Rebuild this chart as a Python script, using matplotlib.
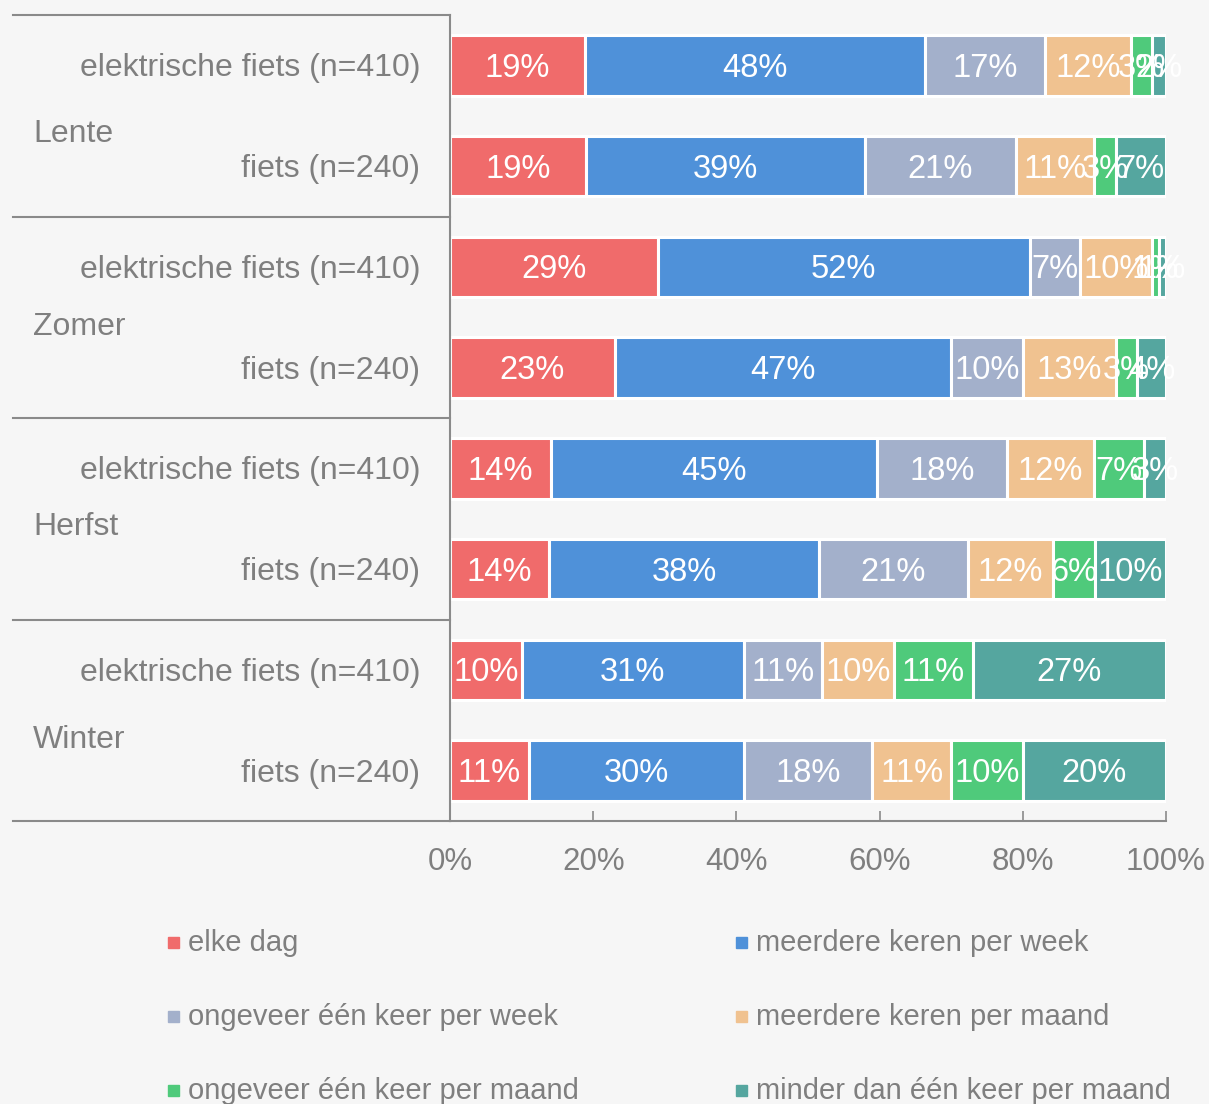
import matplotlib.pyplot as plt
from matplotlib.patches import Rectangle
from matplotlib.transforms import blended_transform_factory

plt.rcParams['font.family'] = ['Liberation Sans', 'DejaVu Sans']

# data
seasons = ['Lente', 'Zomer', 'Herfst', 'Winter']
bikes = ['elektrische fiets (n=410)', 'fiets (n=240)']
categories = ['elke dag', 'meerdere keren per week', 'ongeveer één keer per week',
              'meerdere keren per maand', 'ongeveer één keer per maand',
              'minder dan één keer per maand']
colors = ['#f06b6b', '#4f91d9', '#a3b0cb', '#f0c290', '#4fca7b', '#55a69f']

# one row per season/bike, percent per category
values = [
    [19, 48, 17, 12, 3, 2],
    [19, 39, 21, 11, 3, 7],
    [29, 52, 7, 10, 1, 1],
    [23, 47, 10, 13, 3, 4],
    [14, 45, 18, 12, 7, 3],
    [14, 38, 21, 12, 6, 10],
    [10, 31, 11, 10, 11, 27],
    [11, 30, 18, 11, 10, 20],
]

BG = '#f6f6f6'
GREY = '#7f7f7f'
LINE = '#8a8a8a'

fig = plt.figure(figsize=(12.09, 11.04), dpi=100, facecolor=BG)
ax = fig.add_axes([450 / 1209, 1 - 821 / 1104, 716 / 1209, 806 / 1104])
ax.set_facecolor(BG)

for i, row in enumerate(values):
    total = sum(row)
    left = 0
    for j, v in enumerate(row):
        w = v / total * 100
        ax.barh(i, w, left=left, height=0.6, color=colors[j],
                edgecolor='white', linewidth=2.2)
        ax.text(left + w / 2, i + 0.03, f'{v}%', ha='center', va='center',
                color='white', fontsize=23.5)
        left += w

ax.set_xlim(0, 100)
ax.set_ylim(7.5, -0.5)
ax.set_yticks([])
ax.set_xticks([0, 20, 40, 60, 80, 100])
ax.set_xticklabels(['0%', '20%', '40%', '60%', '80%', '100%'])
ax.tick_params(axis='x', direction='in', length=7, width=1.2, color=LINE,
               labelcolor=GREY, labelsize=22.5, pad=19)
for s in ['top', 'right']:
    ax.spines[s].set_visible(False)
for s in ['left', 'bottom']:
    ax.spines[s].set_color(LINE)
    ax.spines[s].set_linewidth(1.5)

# row labels and group boxes on the left
trans = blended_transform_factory(ax.transAxes, ax.transData)
x_edge = (13 - 450) / 716
for y in [-0.5, 1.5, 3.5, 5.5, 7.5]:
    ax.plot([x_edge, 0], [y, y], color=LINE, lw=1.5, transform=trans, clip_on=False)

season_offset = [0.68, 0.60, 0.58, 0.70]
for g, season in enumerate(seasons):
    ax.text((33 - 450) / 716, 2 * g + season_offset[g], season, transform=trans,
            ha='left', va='center', color=GREY, fontsize=23)
    for b, bike in enumerate(bikes):
        ax.text(-30 / 716, 2 * g + b + 0.03, bike, transform=trans,
                ha='right', va='center', color=GREY, fontsize=23)

# legend, two columns
leg_x = [173 / 1209, 741 / 1209]
leg_y = [1 - 942 / 1104, 1 - 1016 / 1104, 1 - 1090 / 1104]
for k, cat in enumerate(categories):
    x = leg_x[k % 2]
    y = leg_y[k // 2]
    fig.add_artist(Rectangle((x - 5 / 1209, y - 6 / 1104), 11 / 1209, 11 / 1104,
                             transform=fig.transFigure, color=colors[k]))
    fig.text(x + 15 / 1209, y - 1 / 1104, cat, ha='left', va='center',
             color=GREY, fontsize=21)

fig.savefig('out.png', dpi=100, facecolor=BG)
